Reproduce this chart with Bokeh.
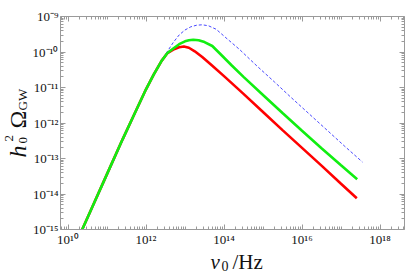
import math
import numpy as np
from bokeh.plotting import figure
from bokeh.models import Range1d, FixedTicker, LogAxis, Label, CustomJSTickFormatter
from bokeh.embed import file_html
from bokeh.resources import INLINE

# ---- data (log10 values) ----
red_log_nu = [10.364, 10.6, 11.0, 11.4, 11.7, 12.0, 12.2, 12.4, 12.55, 12.7, 12.85, 12.97,
              13.1, 13.25, 13.45, 13.7, 14.0, 14.5, 15.0, 15.5, 16.0, 16.5, 17.0, 17.405]
red_log_omega = [-15.0, -14.42, -13.44, -12.46, -11.755, -11.05, -10.63, -10.25, -10.03, -9.93,
                 -9.865, -9.845, -9.88, -9.98, -10.15, -10.39, -10.68, -11.18, -11.69, -12.20,
                 -12.70, -13.20, -13.71, -14.118]

green_log_nu = [10.364, 10.6, 11.0, 11.4, 11.7, 12.0, 12.2, 12.4, 12.55, 12.7, 12.85, 13.0, 13.1,
                13.21, 13.35, 13.5, 13.7, 13.9, 14.2, 14.5, 15.0, 15.5, 16.0, 16.5, 17.0, 17.415]
green_log_omega = [-15.0, -14.42, -13.44, -12.46, -11.755, -11.05, -10.63, -10.25, -10.03, -9.90,
                   -9.78, -9.70, -9.67, -9.656, -9.67, -9.72, -9.83, -10.05, -10.38, -10.70,
                   -11.21, -11.72, -12.22, -12.71, -13.19, -13.583]

blue_log_nu = [10.38, 10.6, 11.0, 11.4, 11.7, 12.0, 12.2, 12.4, 12.55, 12.7, 12.85, 13.0, 13.15,
               13.3, 13.44, 13.6, 13.8, 14.05, 14.4, 14.85, 15.3, 15.7, 16.2, 16.65, 17.1, 17.55]
blue_log_omega = [-15.0, -14.46, -13.48, -12.50, -11.79, -11.08, -10.65, -10.25, -9.98, -9.73,
                  -9.52, -9.38, -9.29, -9.245, -9.234, -9.26, -9.36, -9.60, -9.93, -10.40,
                  -10.85, -11.26, -11.76, -12.21, -12.66, -13.10]

x_ticks = [1e10, 1e12, 1e14, 1e16, 1e18]
x_tick_labels = ["10¹⁰", "10¹²", "10¹⁴", "10¹⁶", "10¹⁸"]
y_ticks = [1e-15, 1e-14, 1e-13, 1e-12, 1e-11, 1e-10, 1e-9]
y_tick_labels = ["10⁻¹⁵", "10⁻¹⁴", "10⁻¹³", "10⁻¹²", "10⁻¹¹", "10⁻¹⁰", "10⁻⁹"]

# plotted box (axes limits)
x_box = [10 ** 9.8077, 10 ** 18.628]
y_box = [1e-15, 1e-9]
# whole canvas expressed in data space (box sits at 60..404 x 16..229 px)
x_canvas = [10 ** 8.2692, 10 ** 18.7564]
y_canvas = [10 ** -16.2394, 10 ** -8.5493]

# ---- figure ----
FRAME = "#9a9a9a"
FONT = "Liberation Serif"

p = figure(width=409, height=273, x_axis_type="log", y_axis_type="log",
           output_backend="svg", toolbar_location=None,
           x_range=Range1d(*x_canvas), y_range=Range1d(*y_canvas),
           min_border=0)
p.grid.visible = False
p.outline_line_color = None
p.background_fill_color = "white"
p.border_fill_color = "white"

x_minor = [k * 10.0 ** d for d in range(9, 19) for k in range(1, 10)
           if not (k == 1 and d % 2 == 0) and x_box[0] <= k * 10.0 ** d <= x_box[1]]
y_minor = [k * 10.0 ** d for d in range(-15, -9) for k in range(2, 10)]


def style(ax, ticks, minor, loc, bounds):
    ax.ticker = FixedTicker(ticks=ticks, minor_ticks=minor)
    ax.fixed_location = loc
    ax.bounds = tuple(bounds)
    ax.axis_line_color = FRAME
    ax.major_tick_line_color = FRAME
    ax.minor_tick_line_color = FRAME
    ax.major_tick_in = 5
    ax.major_tick_out = 0
    ax.minor_tick_in = 3
    ax.minor_tick_out = 0
    ax.major_label_text_font = FONT
    ax.major_label_text_font_size = "13px"
    ax.major_label_text_color = "#111111"
    ax.major_label_standoff = 2


xa = p.xaxis[0]
style(xa, x_ticks, x_minor, y_box[0], x_box)
xa.major_label_overrides = dict(zip(x_ticks, x_tick_labels))
ya = p.yaxis[0]
style(ya, y_ticks, y_minor, x_box[0], y_box)
ya.major_label_overrides = dict(zip(y_ticks, y_tick_labels))

blank = "return ''"
top = LogAxis()
style(top, x_ticks, x_minor, y_box[1], x_box)
top.formatter = CustomJSTickFormatter(code=blank)
top.major_label_text_font_size = "0px"
p.add_layout(top, "above")
right = LogAxis()
style(right, y_ticks, y_minor, x_box[1], y_box)
right.formatter = CustomJSTickFormatter(code=blank)
right.major_label_text_font_size = "0px"
p.add_layout(right, "right")

# ---- curves ----
p.line(np.power(10.0, red_log_nu), np.power(10.0, red_log_omega),
       line_color="#ff0000", line_width=2.6)
p.line(np.power(10.0, blue_log_nu), np.power(10.0, blue_log_omega),
       line_color="#4848ff", line_width=1, line_dash="3 2")
p.line(np.power(10.0, green_log_nu), np.power(10.0, green_log_omega),
       line_color="#11ee11", line_width=2.6)

# ---- axis titles (pieces, screen units; frame == canvas) ----
def lab(x, y, text, size, italic=False, angle=0.0):
    p.add_layout(Label(x=x, y=y, x_units="screen", y_units="screen", text=text,
                       text_font=FONT, text_font_size=size,
                       text_font_style="italic" if italic else "normal",
                       text_color="#111111", angle=angle,
                       text_align="left", text_baseline="alphabetic"))

r = math.pi / 2
# y title: h_0^2 Omega_GW (rotated)
lab(17, 116, "h", "24px", italic=True, angle=r)
lab(22, 130, "0", "13px", angle=r)
lab(8, 132, "2", "13px", angle=r)
lab(17, 145, "Ω", "24px", angle=r)
lab(22, 163, "GW", "13px", angle=r)

# x title: nu_0 / Hz
lab(210, 12, "ν", "21px", italic=True)
lab(221, 8, "0", "14px")
lab(232, 12, "/Hz", "21px")

open("out.html", "w").write(file_html(p, INLINE))
